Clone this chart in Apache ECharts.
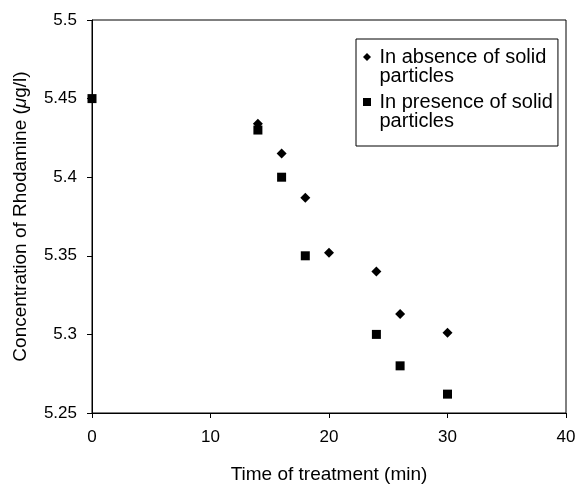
<!DOCTYPE html>
<html>
<head>
<meta charset="utf-8">
<script src="https://cdn.jsdelivr.net/npm/echarts@6/dist/echarts.min.js"></script>
<style>
  html, body { margin: 0; padding: 0; background: #fff; }
  #chart { width: 579px; height: 484px; }
</style>
</head>
<body>
<div id="chart"></div>
<script>
// Rhodamine concentration over treatment time
const timeAbsence = [14, 16, 18, 20, 24, 26, 30];
const concAbsence = [5.434, 5.415, 5.387, 5.352, 5.340, 5.313, 5.301];

const timePresence = [0, 14, 16, 18, 24, 26, 30];
const concPresence = [5.45, 5.43, 5.40, 5.35, 5.30, 5.28, 5.262];

const xTicks = [0, 10, 20, 30, 40];
const yTicks = [5.25, 5.3, 5.35, 5.4, 5.45, 5.5];

const seriesNames = ['In absence of solid particles', 'In presence of solid particles'];

const FONT = '"Liberation Sans", Arial, sans-serif';

// Legend icons: the visible marker sits beside the first text line; the
// zero-length segments at y=0 and y=38 stretch the icon box to the full
// two-line item height so the marker is not centred between the lines.
const ICON_DIAMOND = 'path://M4.5,5.5L8.5,9.5L4.5,13.5L0.5,9.5Z M4.5,0L4.5,0.01 M4.5,38L4.5,37.99';
const ICON_SQUARE = 'path://M0.5,5.5L8.5,5.5L8.5,13.5L0.5,13.5Z M4.5,0L4.5,0.01 M4.5,38L4.5,37.99';

function pairs(xs, ys) {
  return xs.map((x, i) => [x, ys[i]]);
}

const chart = echarts.init(document.getElementById('chart'), null, { renderer: 'canvas' });

chart.setOption({
  animation: false,
  backgroundColor: '#ffffff',
  textStyle: { fontFamily: FONT, color: '#000' },
  grid: {
    left: 92, top: 20, right: 13, bottom: 71,
    containLabel: false,
    outerBoundsMode: 'none',
    show: true, borderColor: '#000', borderWidth: 1, backgroundColor: 'transparent'
  },
  legend: {
    orient: 'vertical',
    left: 356, top: 39,
    padding: [8, 5, 15, 7],
    itemGap: 6,
    itemWidth: 9, itemHeight: 38,
    symbolKeepAspect: true,
    borderColor: '#000', borderWidth: 1, borderRadius: 0,
    backgroundColor: '#fff',
    itemStyle: { opacity: 1 },
    data: [
      { name: seriesNames[0], icon: ICON_DIAMOND },
      { name: seriesNames[1], icon: ICON_SQUARE }
    ],
    formatter: function (name) {
      return name.replace(' particles', '\nparticles');
    },
    textStyle: {
      fontFamily: FONT, fontSize: 20, color: '#000', lineHeight: 19,
      padding: [0, 0, 0, 3]
    }
  },
  xAxis: {
    type: 'value',
    min: xTicks[0], max: xTicks[xTicks.length - 1], interval: 10,
    name: 'Time of treatment (min)',
    nameLocation: 'middle', nameGap: 52,
    nameTextStyle: { fontFamily: FONT, fontSize: 19, color: '#000' },
    axisLine: { show: true, onZero: false, lineStyle: { color: '#000', width: 1 } },
    axisTick: { show: true, inside: false, length: 5, lineStyle: { color: '#000' } },
    axisLabel: { fontFamily: FONT, fontSize: 17, color: '#000', margin: 16 },
    splitLine: { show: false }
  },
  yAxis: {
    type: 'value',
    min: yTicks[0], max: yTicks[yTicks.length - 1], interval: 0.05,
    name: 'Concentration of Rhodamine ({i|μ}g/l)',
    nameLocation: 'middle', nameGap: 62, nameRotate: 90,
    nameTextStyle: {
      fontFamily: FONT, fontSize: 19, color: '#000',
      rich: { i: { fontFamily: FONT, fontSize: 19, fontStyle: 'italic', color: '#000' } }
    },
    axisLine: { show: true, onZero: false, lineStyle: { color: '#000', width: 1 } },
    axisTick: { show: true, inside: false, length: 5, lineStyle: { color: '#000' } },
    axisLabel: {
      fontFamily: FONT, fontSize: 17, color: '#000', margin: 15,
      formatter: function (v) { return String(parseFloat(v.toFixed(2))); }
    },
    splitLine: { show: false }
  },
  series: [
    {
      name: seriesNames[0],
      type: 'scatter',
      symbol: 'diamond',
      symbolSize: 10,
      clip: false,
      itemStyle: { color: '#000', opacity: 1 },
      data: pairs(timeAbsence, concAbsence)
    },
    {
      name: seriesNames[1],
      type: 'scatter',
      symbol: 'rect',
      symbolSize: 9,
      clip: false,
      itemStyle: { color: '#000', opacity: 1 },
      data: pairs(timePresence, concPresence)
    }
  ]
});
</script>
</body>
</html>
